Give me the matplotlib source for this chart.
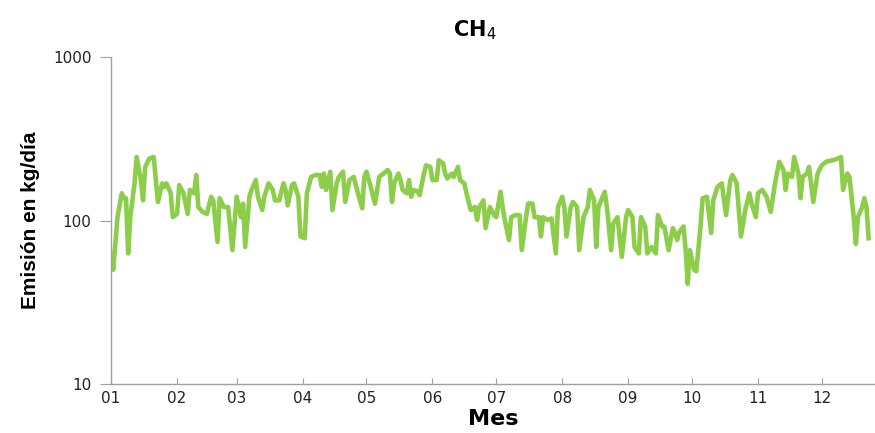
import matplotlib.pyplot as plt
from matplotlib.ticker import FixedLocator, NullLocator, FixedFormatter

# dia del año y emision (kg/dia)
dias = [1, 2, 4, 6, 7, 8, 9, 10, 12, 13, 15, 16, 17, 19, 21, 22, 23, 25, 26, 27,
        29, 30, 32, 33, 35, 37, 38, 40, 41, 42, 44, 46, 48, 49, 51, 52, 54, 56, 58, 60,
        62, 63, 64, 66, 67, 69, 70, 72, 73, 75, 77, 78, 80, 82, 83, 84, 86, 87, 89, 90,
        92, 93, 95, 97, 99, 100, 101, 102, 104, 105, 107, 108, 110, 111, 113, 115, 117, 119, 120,
        121, 123, 125, 127, 129, 131, 132, 133, 134, 136, 137, 138, 140, 141, 142, 143, 145, 146,
        148, 149, 151, 152, 154, 155, 157, 158, 159, 161, 162, 164, 165, 167, 168, 170, 172, 173,
        174, 176, 177, 179, 181,
        182, 184, 185, 186, 188, 189, 191, 193, 194, 196, 197, 199, 200, 202, 203, 204, 206, 208,
        210, 211, 213, 214, 215, 217, 218, 220, 221, 223, 225, 226, 228, 229, 230, 233, 234, 236,
        237, 239, 241,
        243, 244, 246, 247, 249, 250, 252, 253, 255, 257, 258, 260, 261, 263, 265, 266, 267, 268,
        270, 271, 272, 273, 275, 276, 278, 279, 281, 283, 284, 286, 288, 290, 292, 293, 295, 297,
        299, 301,
        302, 304, 305, 307, 309, 311, 313, 315, 317, 318, 319, 321, 322, 324, 325, 326, 328, 329,
        331, 333, 335, 337, 340, 342, 344, 345, 347, 348, 350, 351, 352, 354, 355, 356, 357]
emision = [63, 50, 105, 147, 137, 137, 63, 105, 169, 245, 177, 133, 213, 240, 245, 177, 130, 169, 161, 169,
           147, 105, 110, 165, 147, 110, 154, 147, 190, 121, 113, 110, 140, 133, 74, 137, 121, 121, 66, 140,
           105, 127, 69, 140, 154, 177, 140, 116, 140, 169, 154, 133, 133, 169, 154, 124, 165, 169, 140, 80,
           78, 147, 185, 190, 190, 161, 194, 154, 199, 116, 169, 185, 199, 130, 177, 185, 147, 119, 185,
           199, 161, 127, 185, 194, 204, 194, 130, 169, 194, 177, 154, 147, 177, 140, 154, 151, 143,
           194, 218, 213, 177, 177, 234, 224, 194, 181, 194, 185, 213, 177, 169, 147, 116, 121, 101,
           121, 133, 90, 121, 108,
           105, 150, 121, 101, 76, 105, 108, 108, 66, 105, 127, 127, 105, 105, 80, 105, 101, 103,
           63, 121, 140, 121, 80, 121, 130, 121, 66, 105, 121, 154, 133, 69, 121, 150, 121, 66,
           96, 105, 60,
           105, 116, 105, 69, 63, 105, 92, 63, 69, 63, 108, 92, 92, 66, 90, 84, 76, 85,
           92, 66, 41, 66, 50, 49, 92, 137, 140, 84, 133, 161, 169, 108, 177, 190, 169, 80,
           116, 147,
           127, 105, 147, 154, 140, 113, 169, 229, 204, 154, 194, 185, 245, 194, 137, 185, 194, 213,
           130, 194, 218, 229, 234, 238, 245, 154, 194, 185, 105, 72, 105, 121, 137, 121, 78]

inicio_mes = [1, 32, 60, 91, 121, 152, 182, 213, 244, 274, 305, 335]
etiquetas_mes = ['01', '02', '03', '04', '05', '06', '07', '08', '09', '10', '11', '12']

fig = plt.figure(figsize=(8.75, 4.33), dpi=100)
ax = fig.add_axes([0.127, 0.113, 0.873, 0.755])

ax.plot(dias, emision, color='#8cce4a', linewidth=3.3, solid_joinstyle='round')

ax.set_yscale('log')
ax.set_ylim(10, 1000)
ax.set_xlim(1, 360)
ax.yaxis.set_major_locator(FixedLocator([10, 100, 1000]))
ax.yaxis.set_major_formatter(FixedFormatter(['10', '100', '1000']))
ax.yaxis.set_minor_locator(NullLocator())
ax.set_xticks(inicio_mes)
ax.set_xticklabels(etiquetas_mes)

for lado in ['top', 'right']:
    ax.spines[lado].set_visible(False)
for lado in ['left', 'bottom']:
    ax.spines[lado].set_color('#a0a0a0')
    ax.spines[lado].set_linewidth(1)

ax.tick_params(axis='y', direction='out', length=8, color='#a0a0a0', labelsize=11,
               labelcolor='#222222', pad=6)
ax.tick_params(axis='x', direction='in', length=4, color='#a0a0a0', labelsize=11,
               labelcolor='#222222', pad=5)

ax.set_xlabel('Mes', fontsize=16, fontweight='bold', labelpad=2)
ax.set_ylabel('Emisión en kg/día', fontsize=15, fontweight='bold',
              family=['Liberation Sans', 'DejaVu Sans'])
ax.yaxis.set_label_coords(-0.093, 0.5)
fig.text(0.543, 0.93, 'CH$_4$', fontsize=15, fontweight='bold', ha='center', va='center')

plt.savefig('out.png', dpi=100)
